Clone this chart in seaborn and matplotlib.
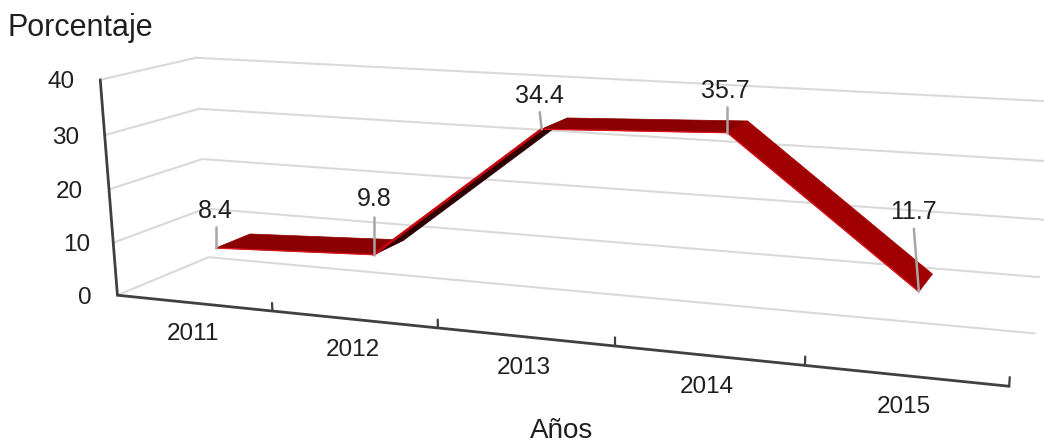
import numpy as np
import pandas as pd
import seaborn as sns
import matplotlib
matplotlib.use("Agg")
import matplotlib.pyplot as plt

years = ["2011", "2012", "2013", "2014", "2015"]
values = [8.4, 9.8, 34.4, 35.7, 11.7]
value_labels = ["8.4", "9.8", "34.4", "35.7", "11.7"]
y_ticks = [0, 10, 20, 30, 40]

sns.set_theme(style="white")
plt.rcParams["font.family"] = ["Liberation Sans", "DejaVu Sans"]

# chart frame -> image pixels, used to fit the 3d view of the original
# (category position, depth, value) : (px, py)
frame = [
    (0, 0, 0, 117, 295), (1, 0, 0, 272, 311), (2, 0, 0, 438, 328),
    (3, 0, 0, 615, 347), (4, 0, 0, 805, 366), (5, 0, 0, 1009, 386),
    (0, 0, 10, 113, 242), (0, 0, 20, 110, 189), (0, 0, 30, 106, 135),
    (0, 0, 40, 99, 80),
    (0, 1, 0, 209, 257), (0, 1, 10, 206, 210), (0, 1, 20, 202, 159),
    (0, 1, 30, 199, 108), (0, 1, 40, 196, 58),
    (5, 1, 0, 1035, 333), (5, 1, 10, 1039, 277), (5, 1, 20, 1043, 219),
    (5, 1, 30, 1048, 160), (5, 1, 40, 1052, 103),
]


def fit_view(points):
    rows, rhs = [], []
    for x, d, z, u, v in points:
        z = z / 40
        rows.append([x, d, z, 1, 0, 0, 0, 0, -u * x, -u * d, -u * z])
        rhs.append(u)
        rows.append([0, 0, 0, 0, x, d, z, 1, -v * x, -v * d, -v * z])
        rhs.append(v)
    p = np.linalg.lstsq(np.array(rows, float), np.array(rhs, float), rcond=None)[0]
    return np.append(p, 1).reshape(3, 4)


view = fit_view(frame)


def project(x, d, z):
    x, d, z = np.broadcast_arrays(np.asarray(x, float), np.asarray(d, float), np.asarray(z, float))
    pts = view @ np.stack([x, d, z / 40, np.ones_like(x)])
    return pts[0] / pts[2], pts[1] / pts[2]


fig = plt.figure(figsize=(10.44, 4.43), dpi=100)
ax = fig.add_axes([0, 0, 1, 1])
ax.set_xlim(0, 1044)
ax.set_ylim(443, 0)
ax.axis("off")

# gridlines on side wall and back wall
for t in y_ticks:
    gx, gy = project([0, 0, 5], [0, 1, 1], [t, t, t])
    ax.plot(gx, gy, color="#d9d9d9", lw=1.5, zorder=1)

# axes
ax_x, ax_y = project([0, 0, 5], [0, 0, 0], [40, 0, 0])
ax.plot(ax_x, ax_y, color="#404040", lw=2, zorder=2, solid_joinstyle="miter")
for i in range(1, 6):
    tx, ty = project([i, i], [0, 0], [0, 1.5])
    ax.plot(tx, ty, color="#404040", lw=1.6, zorder=2)

# ribbon
front_d = 0.27
back_d = 0.66
centers = np.arange(len(years)) + 0.5
seg_colors = ["#8b0000", "#2e0000", "#8b0000", "#a00000"]
for i in range(len(years) - 1):
    sx = [centers[i], centers[i + 1], centers[i + 1], centers[i]]
    sd = [front_d, front_d, back_d, back_d]
    sz = [values[i], values[i + 1], values[i + 1], values[i]]
    rx, ry = project(sx, sd, sz)
    ax.fill(rx, ry, color=seg_colors[i], lw=0.5, zorder=3)

# bright front edge, heavier on the rising part
edge_x, edge_y = project(centers, front_d, values)
edges = pd.DataFrame({"x": edge_x, "y": edge_y})
sns.lineplot(data=edges, x="x", y="y", sort=False, estimator=None, color="#e0141e",
             lw=0.9, zorder=4, ax=ax)
ax.plot(edge_x[1:3], edge_y[1:3], color="#c8000c", lw=1.9, zorder=4)
ax.set_xlim(0, 1044)
ax.set_ylim(443, 0)
ax.axis("off")

# value labels with leaders
leader_px = [21, 38, 17, 26, 63]
leader_dx = [0, 0, -2, 0, -5]
label_dx = [0, 0, 0, -2, 0]
label_dy = [16, 18, 16, 16, 17]
for i, lab in enumerate(value_labels):
    top_x = edge_x[i] + leader_dx[i]
    top_y = edge_y[i] - leader_px[i]
    ax.plot([edge_x[i], top_x], [edge_y[i], top_y], color="#a6a6a6", lw=1.8, zorder=5)
    ax.text(top_x + label_dx[i], top_y - label_dy[i], lab, ha="center", va="center",
            fontsize=18, color="#1f1f1f", zorder=6)

# tick labels
label_right = [92, 90, 83, 79, 75]
for t, right in zip(y_ticks, label_right):
    lx, ly = project(0, 0, t)
    ax.text(right, ly + 2.5, str(t), ha="right", va="center", fontsize=17.5, color="#1f1f1f")
for i, year in enumerate(years):
    lx, ly = project(centers[i], 0, 0)
    ax.text(lx - 1, ly + 31, year, ha="center", va="center", fontsize=17.5, color="#1f1f1f")

ax.text(8, 28, "Porcentaje", ha="left", va="center", fontsize=22, color="#1f1f1f")
ax.text(562, 431, "Años", ha="center", va="center", fontsize=20, color="#1f1f1f")

fig.savefig("out.png", dpi=100)
